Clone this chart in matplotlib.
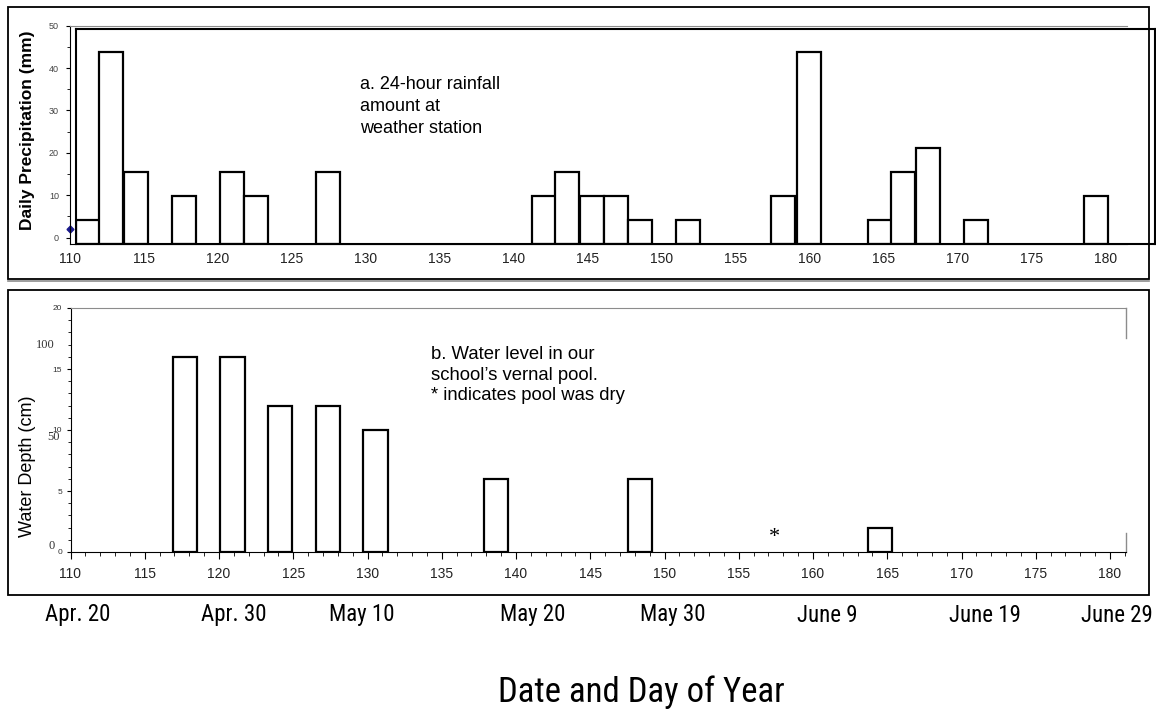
import matplotlib
matplotlib.use("Agg")
import matplotlib.pyplot as plt
from matplotlib import font_manager as fm
from matplotlib.patches import Rectangle
from matplotlib.lines import Line2D
from matplotlib.ticker import MultipleLocator

# rainfall (bar centre in day of year, mm)
rain_day = [111.2, 112.8, 114.45, 117.7, 120.95, 122.6, 127.4,
            142.0, 143.6, 145.3, 146.9, 148.5, 151.75,
            158.2, 159.9, 164.7, 166.3, 168.0, 171.2, 179.3]
rain_mm = [4.2, 43.7, 15.4, 9.8, 15.4, 9.8, 15.4,
           9.8, 15.4, 9.8, 9.8, 4.2, 4.2,
           9.8, 43.7, 4.2, 15.4, 21.2, 4.2, 9.8]

# vernal pool water depth (cm)
pool_day = [117.7, 120.9, 124.1, 127.35, 130.55, 138.65, 148.35, 164.5]
pool_cm = [16, 16, 12, 12, 10, 6, 6, 2]
dry_day = [157.4]

day_ticks = list(range(110, 181, 5))
date_labels = ["Apr. 20", "Apr. 30", "May 10", "May 20", "May 30", "June 9", "June 19", "June 29"]
date_x = [78, 234, 362, 533, 673, 827, 985, 1117]   # pixel centres of the date captions

W, H = 1156, 713
fig = plt.figure(figsize=(W / 100, H / 100), dpi=100)
plt.rcParams["font.family"] = ["Liberation Sans", "DejaVu Sans"]
serif = ["Liberation Serif", "DejaVu Serif"]


# look for a narrow / condensed regular face for the date captions
def narrow_font():
    prefer = ["Liberation Sans Narrow", "Roboto Condensed", "Open Sans Condensed",
              "Noto Sans", "DejaVu Sans", "Open Sans", "Roboto"]
    skip = ["bold", "italic", "oblique", "semi", "extra", "ultra", "light",
            "medium", "black", "thin", "mono", "heavy"]
    found = []
    for f in fm.fontManager.ttflist:
        low = (f.name + " " + str(f.stretch) + " " + f.fname).lower()
        if not ("narrow" in low or "condensed" in low):
            continue
        if any(k in low for k in skip):
            continue
        if f.weight not in (400, "normal", "regular", "book") or f.style != "normal":
            continue
        found.append(f)
    for name in prefer:
        for f in found:
            if f.name == name:
                return fm.FontProperties(fname=f.fname)
    if found:
        return fm.FontProperties(fname=found[0].fname)
    return None


nf = narrow_font()


def frame(l, t, r, b, lw=1.3, color="black"):
    fig.patches.append(Rectangle((l / W, 1 - b / H), (r - l) / W, (b - t) / H,
                                 transform=fig.transFigure, fill=False,
                                 lw=lw, edgecolor=color, zorder=0))


def box(l, t, r, b):
    return [l / W, 1 - b / H, (r - l) / W, (b - t) / H]


px_day = 14.8

# ---------------- top panel ----------------
frame(8, 7, 1149, 279)
ax1 = fig.add_axes(box(70, 25.7, 1127, 244))
ax1.set_xlim(110, 110 + (1127 - 70) / px_day)
ax1.set_ylim(-1.5, 50)
ax1.spines["right"].set_visible(False)
ax1.spines["top"].set_color("#8c8c8c")
ax1.set_xticks(day_ticks)
ax1.tick_params(axis="x", length=0, pad=6, labelsize=10, labelcolor="#222222")
ax1.set_yticks(range(0, 51, 10))
ax1.yaxis.set_minor_locator(MultipleLocator(5))
ax1.tick_params(axis="y", which="major", length=3, pad=5, labelsize=6.5, labelcolor="#444444")
ax1.tick_params(axis="y", which="minor", length=2)
ax1.set_ylabel("Daily Precipitation (mm)", fontsize=12.5, fontweight="bold")
ax1.yaxis.set_label_coords(-35 / (1127 - 70), 0.52)
ax1.plot([110], [2], marker="D", ms=3.5, color="#1a1a8c", clip_on=False)

# overlaid bar chart box
ax2 = fig.add_axes(box(76, 29, 1155, 244))
ax2.set_xlim(110 + 6 / px_day, 110 + 1085 / px_day)
ax2.set_ylim(-1.5, -1.5 + 215 / 4.24)
ax2.set_xticks([])
ax2.set_yticks([])
for s in ax2.spines.values():
    s.set_linewidth(1.5)
base = ax2.get_ylim()[0]
ax2.bar(rain_day, [v - base for v in rain_mm], bottom=base, width=1.62,
        color="white", edgecolor="black", linewidth=1.6)
fig.text(360 / W, 1 - 76 / H, "a. 24-hour rainfall\namount at\nweather station",
         fontsize=13, va="top", ha="left", linespacing=1.38)

# ---------------- bottom panel ----------------
fig.add_artist(Line2D([8 / W, 1149 / W], [1 - 281 / H, 1 - 281 / H], color="#8c8c8c", lw=1.2))
frame(8, 290, 1149, 595)
ax3 = fig.add_axes(box(70.5, 308, 1126, 552))
ax3.set_xlim(110, 110 + (1126 - 70.5) / 14.85)
ax3.set_ylim(0, 20)
ax3.spines["right"].set_visible(False)
ax3.spines["top"].set_color("#8c8c8c")
for y0, y1 in [(0.877, 1.0), (0.0, 0.078)]:
    ax3.plot([1, 1], [y0, y1], color="#8c8c8c", lw=1, transform=ax3.transAxes, clip_on=False)
ax3.set_xticks(day_ticks)
ax3.xaxis.set_minor_locator(MultipleLocator(1))
ax3.tick_params(axis="x", which="major", length=5, pad=6, labelsize=10, labelcolor="#222222")
ax3.tick_params(axis="x", which="minor", length=3)
ax3.set_yticks(range(0, 21, 5))
ax3.yaxis.set_minor_locator(MultipleLocator(1))
ax3.tick_params(axis="y", which="major", length=3, pad=3, labelsize=6, labelcolor="#333333")
ax3.tick_params(axis="y", which="minor", length=2)
ax3.bar(pool_day, pool_cm, width=1.65, color="white", edgecolor="black", linewidth=1.6)
for d in dry_day:
    ax3.text(d, 1.2, "*", fontsize=16, family=serif, ha="center", va="center")
ax3.set_ylabel("Water Depth (cm)", fontsize=13)
ax3.yaxis.set_label_coords(-35 / (1126 - 70.5), 0.5 - (466 - 430) / 244)

# stray serif labels from the underlying chart
for txt, x, y in [("100", 45, 345), ("50", 54, 437), ("0", 52, 546)]:
    fig.text(x / W, 1 - y / H, txt, fontsize=9, family=serif,
             color="#333333", ha="center", va="center")

fig.text(431 / W, 1 - 346 / H, "b. Water level in our\nschool\u2019s vernal pool.\n* indicates pool was dry",
         fontsize=13.3, va="top", ha="left", linespacing=1.28)

# date captions and axis title
if nf is not None:
    cap_kw = dict(fontproperties=nf)
    cap_size, title_size = 16.5, 25
else:
    cap_kw = dict(family=["Liberation Sans", "DejaVu Sans"])
    cap_size, title_size = 13, 20
for lab, x in zip(date_labels, date_x):
    fig.text(x / W, 1 - 615 / H, lab, fontsize=cap_size, ha="center", va="center", **cap_kw)
fig.text(641 / W, 1 - 692 / H, "Date and Day of Year", fontsize=title_size,
         ha="center", va="center", **cap_kw)

fig.savefig("out.png", dpi=100)
